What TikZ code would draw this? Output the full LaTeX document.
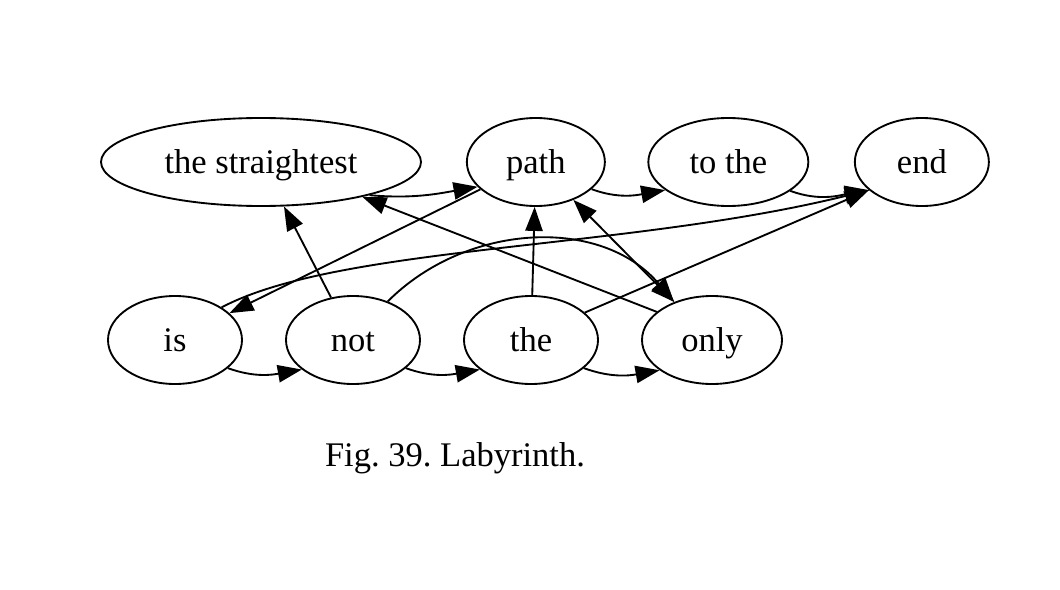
\documentclass[tikz,border=0pt]{standalone}
\usepackage{fontspec}
\setmainfont{Liberation Serif}
\usetikzlibrary{shapes.geometric, arrows.meta, positioning}

\begin{document}
\frenchspacing
\begin{tikzpicture}[
    x=0.75pt, y=-0.75pt,
    word/.style={draw, ellipse, line width=1.4pt, minimum width=#1, minimum height=66pt,
                 inner sep=0pt, text height=21.5pt, text depth=5pt,
                 font=\fontsize{25.9}{30}\selectfont},
    link/.style={->, line width=1.4pt},
    >={Triangle[length=18pt, width=13pt]},
    node distance=31.6pt
]
    \useasboundingbox (0,0) rectangle (1060,589);

    \node[word=240pt] (straightest) at (261,162) {the straightest};
    \node[word=103.5pt, right=33pt of straightest] (path) {path};
    \node[word=120pt, right=31.2pt of path] (tothe) {to the};
    \node[word=100.5pt, right=33.5pt of tothe] (end) {end};

    \node[word=100.5pt] (is) at (175,340) {is};
    \node[word=100.5pt, right=of is] (not) {not};
    \node[word=100.5pt, right=of not] (the) {the};
    \node[word=105pt, right=of the] (only) {only};

    \node[font=\fontsize{25.9}{30}\selectfont] (caption) at (455,458) {Fig. 39. Labyrinth.};

    % the word chain
    \draw[link] (straightest.-17) to[out=-5, in=190] (path.-157);
    \draw[link] (path.-26) to[out=-20, in=190] (tothe.-156);
    \draw[link] (tothe.-25) to[out=-20, in=190] (end.-152);
    \draw[link] (is.-28) to[out=-20, in=190] (not.-150);
    \draw[link] (not.-28) to[out=-20, in=190] (the.-150);
    \draw[link] (the.-28) to[out=-20, in=190] (only.-150);

    % the crossings
    \draw[link] (not) -- (straightest);
    \draw[link] (path) -- (is);
    \draw[link] (only.153) -- (straightest.-19);
    \draw[link] (the) -- (path);
    \draw[link, <->] (path) -- (only);
    \draw[link] (the.27) -- (end.-152);
    \draw[link] (not.48) to[out=45, in=130] (only.135);
    \draw[link] (is.35) .. controls (340,245) and (627,250) .. (end.-152);
\end{tikzpicture}
\end{document}
